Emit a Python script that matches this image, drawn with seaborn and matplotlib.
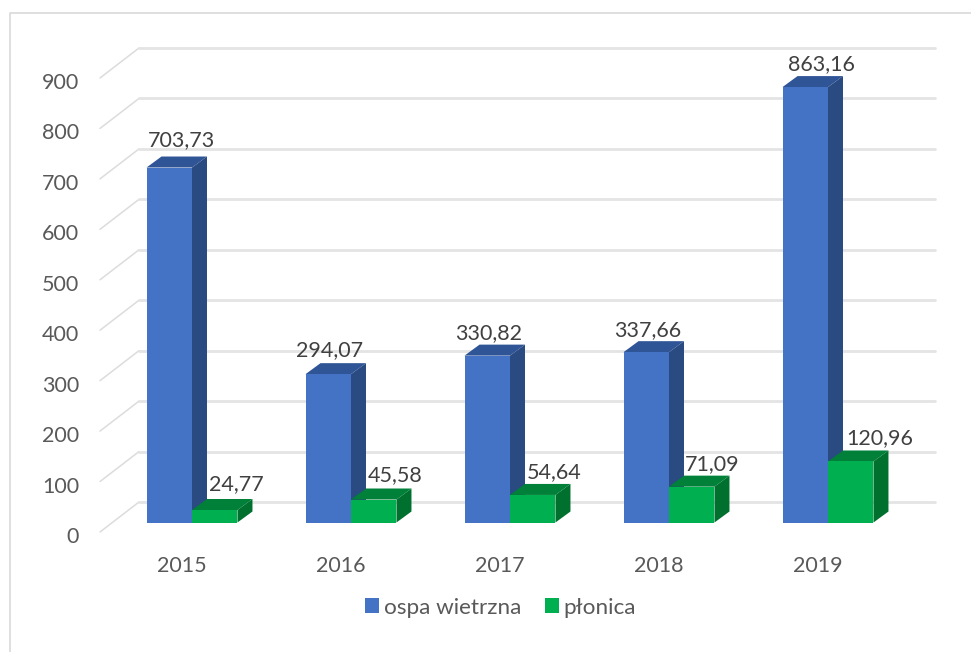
import matplotlib
matplotlib.use("Agg")
import pandas as pd
import seaborn as sns
import matplotlib.pyplot as plt
from matplotlib.lines import Line2D
from matplotlib.patches import Polygon
from matplotlib.transforms import Affine2D, IdentityTransform

years = ["2015", "2016", "2017", "2018", "2019"]
ospa = [703.73, 294.07, 330.82, 337.66, 863.16]
plonica = [24.77, 45.58, 54.64, 71.09, 120.96]
y_ticks = [0, 100, 200, 300, 400, 500, 600, 700, 800, 900]

# label nudges in pixels, the chart has them hand placed
ospa_shift = [(12, 27), (1, 24), (1, 23), (1, 22), (16, 23)]
plonica_shift = [(22, 26), (21, 24), (21, 23), (20, 23), (29, 23)]

W, H = 971, 652
sns.set_theme(style="white")
plt.rcParams["font.family"] = ["Lato", "DejaVu Sans"]

df = pd.DataFrame({
    "rok": years * 2,
    "choroba": ["ospa wietrzna"] * 5 + ["płonica"] * 5,
    "wartosc": ospa + plonica,
})

fig = plt.figure(figsize=(W / 100, H / 100), dpi=100)
ax = fig.add_axes([112.5 / W, (H - 522.5) / H, 795 / W, 454 / H])
sns.barplot(data=df, x="rok", y="wartosc", hue="choroba",
            palette=["#4472C4", "#00B050"], width=0.572, gap=0,
            saturation=1, linewidth=0, edgecolor="none", ax=ax)
ax.set_xlim(-0.5, 4.5)
ax.set_ylim(0, 900)
ax.set_xlabel("")
ax.set_ylabel("")
ax.patch.set_visible(False)
sns.despine(ax=ax, left=True, bottom=True)

# frame of the picture, only left and top are visible
fig.add_artist(Line2D([10 / W, 10 / W, 1], [0, (H - 13) / H, (H - 13) / H],
                      color="#D9D9D9", lw=1.2))

# back wall grid with the short diagonal on the left
for v in y_ticks:
    x0, y0 = ax.transData.transform((-0.5, v))
    x1, y1 = ax.transData.transform((4.5, v))
    ax.add_line(Line2D([x0 - 12.5, x0 + 26.5], [y0 - 9.5, y0 + 20.5], color="#DCDCDC", lw=1.1,
                       transform=IdentityTransform(), clip_on=False, zorder=0.5))
    ax.add_line(Line2D([x0 + 26.5, x1 + 27.5], [y0 + 20.5, y1 + 20.5], color="#E4E4E4", lw=2,
                       transform=IdentityTransform(), clip_on=False, zorder=0.5))

# fake depth on the bars
faces = [("#2F5597", "#2A4A82", 1.2), ("#008038", "#00702F", 1.5)]
shifts = [ospa_shift, plonica_shift]
DX, DY = 15, 11
for cont, (top_c, side_c, z), shift in zip(ax.containers[:2], faces, shifts):
    for bar, (sx, sy) in zip(cont, shift):
        bar.set_zorder(z + 0.1)
        h = bar.get_height()
        l, b = ax.transData.transform((bar.get_x(), 0))
        r, t = ax.transData.transform((bar.get_x() + bar.get_width(), h))
        top = [(l, t), (r, t), (r + DX, t + DY), (l + DX, t + DY)]
        side = [(r, b), (r + DX, b + DY), (r + DX, t + DY), (r, t)]
        for pts, c in ((top, top_c), (side, side_c)):
            ax.add_patch(Polygon(pts, closed=True, fc=c, ec="none", zorder=z,
                                 transform=IdentityTransform(), clip_on=False))
        ax.annotate(f"{h:.2f}".replace(".", ","),
                    xy=(bar.get_x() + bar.get_width() / 2, h),
                    xytext=(sx, sy), textcoords="offset pixels",
                    ha="center", va="center", fontsize=15.5, color="#404040",
                    annotation_clip=False, zorder=5)

ax.set_yticks(y_ticks)
ax.tick_params(axis="both", length=0, labelsize=15.5, labelcolor="#595959", pad=0)
for lab in ax.get_yticklabels():
    lab.set_transform(lab.get_transform() + Affine2D().translate(-33.5, -12.5))
for lab in ax.get_xticklabels():
    lab.set_verticalalignment("center")
    lab.set_transform(lab.get_transform() + Affine2D().translate(-10.5, -43))

handles, labels = ax.get_legend_handles_labels()
ax.legend(handles, labels, ncol=2, loc="center", frameon=False,
          bbox_to_anchor=(500.5 / W, (H - 607.5) / H), bbox_transform=fig.transFigure,
          fontsize=16.2, labelcolor="#595959", handlelength=0.62, handleheight=0.62,
          handletextpad=0.2, columnspacing=1.05, borderpad=0, borderaxespad=0)

fig.savefig("out.png", dpi=100)
